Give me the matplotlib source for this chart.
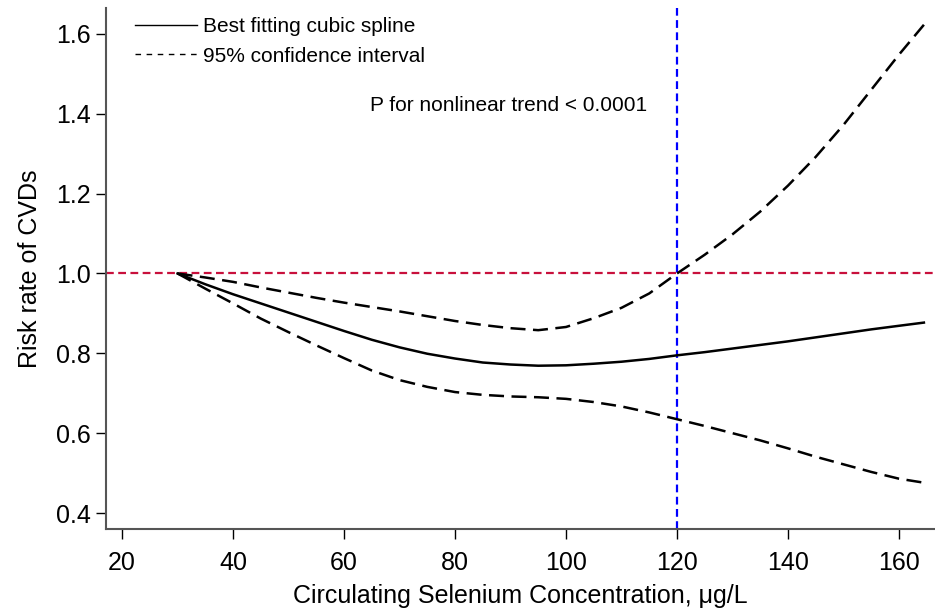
import matplotlib.pyplot as plt
from matplotlib.lines import Line2D

plt.rcParams['font.family'] = ['Liberation Sans', 'DejaVu Sans']

selenium = [30, 35, 40, 45, 50, 55, 60, 65, 70, 75, 80, 85, 90, 95, 100,
            105, 110, 115, 120, 125, 130, 135, 140, 145, 150, 155, 160, 164.5]
risk = [1.0, 0.973, 0.948, 0.925, 0.902, 0.879, 0.856, 0.834, 0.815, 0.799,
        0.787, 0.777, 0.772, 0.769, 0.770, 0.774, 0.779, 0.786, 0.795, 0.803,
        0.812, 0.821, 0.830, 0.840, 0.850, 0.860, 0.869, 0.877]
upper = [1.0, 0.990, 0.979, 0.965, 0.952, 0.939, 0.927, 0.916, 0.905, 0.893,
         0.881, 0.871, 0.863, 0.858, 0.866, 0.888, 0.914, 0.950, 1.0, 1.047,
         1.098, 1.155, 1.22, 1.292, 1.372, 1.460, 1.548, 1.623]
lower = [1.0, 0.962, 0.925, 0.887, 0.853, 0.820, 0.788, 0.757, 0.733, 0.716,
         0.703, 0.696, 0.692, 0.690, 0.686, 0.678, 0.667, 0.652, 0.635, 0.618,
         0.600, 0.582, 0.562, 0.541, 0.522, 0.503, 0.486, 0.476]

xticks = [20, 40, 60, 80, 100, 120, 140, 160]
yticks = [0.4, 0.6, 0.8, 1.0, 1.2, 1.4, 1.6]

fig = plt.figure(figsize=(9.35, 6.14), dpi=100)
ax = fig.add_axes([106 / 935, 85 / 614, 829 / 935, 521 / 614])

ax.axhline(1.0, color='#c8103c', lw=1.6, ls=(0, (3.5, 2)), zorder=1)
ax.axvline(120, color='#0000ff', lw=1.6, ls=(0, (3.5, 2)), zorder=1)

ax.plot(selenium, risk, color='black', lw=1.8, zorder=3)
ax.plot(selenium, upper, color='black', lw=1.8, ls=(0, (6, 3)), zorder=3)
ax.plot(selenium, lower, color='black', lw=1.8, ls=(0, (6, 3)), zorder=3)

ax.set_xlim(17.1, 166.5)
ax.set_ylim(0.36, 1.665)
ax.set_xticks(xticks)
ax.set_yticks(yticks)
ax.set_yticklabels([f'{v:.1f}' for v in yticks])
ax.tick_params(direction='out', length=7, width=1, labelsize=18, colors='black')
ax.tick_params(axis='y', pad=4)
ax.tick_params(axis='x', pad=9)
for side in ['top', 'right']:
    ax.spines[side].set_visible(False)
for side in ['left', 'bottom']:
    ax.spines[side].set_color('#555555')
    ax.spines[side].set_linewidth(1.5)

ax.set_xlabel('Circulating Selenium Concentration, μg/L', fontsize=18, labelpad=6)
ax.set_ylabel('Risk rate of CVDs', fontsize=18, labelpad=10)

ax.text(0.6526, 0.812, 'P for nonlinear trend < 0.0001', transform=ax.transAxes,
        ha='right', va='center', fontsize=15)

handles = [Line2D([], [], color='black', lw=1),
           Line2D([], [], color='black', lw=1, ls=(0, (4, 4)))]
ax.legend(handles, ['Best fitting cubic spline', '95% confidence interval'],
          loc='upper left', bbox_to_anchor=(0.012, 1.018), frameon=False,
          fontsize=15, handlelength=3.0, handletextpad=0.3, labelspacing=0.5)

fig.savefig('out.png', dpi=100)
